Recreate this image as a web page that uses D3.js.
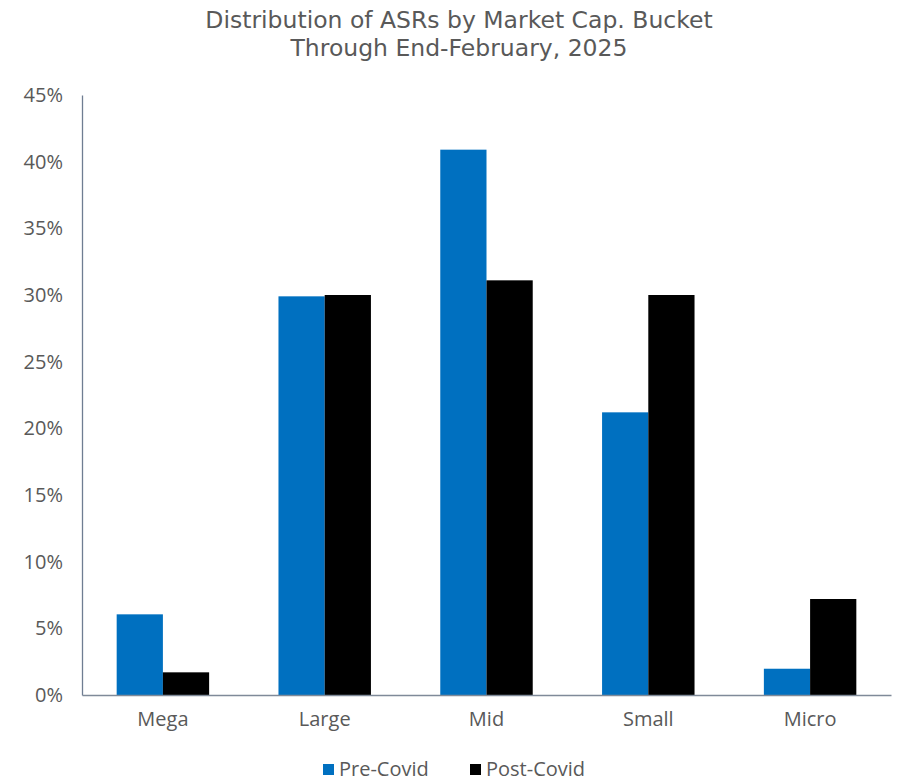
<!DOCTYPE html>
<html><head><meta charset="utf-8">
<script src="https://cdn.jsdelivr.net/npm/d3@7"></script>
<style>body{margin:0;background:#fff;} text{font-family:"Open Sans",sans-serif;}</style>
</head><body><svg id="c" width="900" height="782"></svg>
<script>
const categories = ["Mega","Large","Mid","Small","Micro"];
const seriesNames = ["Pre-Covid","Post-Covid"];
const preCovid = [6.05, 29.9, 40.9, 21.2, 1.97];
const postCovid = [1.7, 30.0, 31.1, 30.0, 7.2];
const yTicks = [0,5,10,15,20,25,30,35,40,45];
const colors = ["#0070C0","#000000"];
const titleLines = ["Distribution of ASRs by Market Cap. Bucket","Through End-February, 2025"];

(function(){
const svg = d3.select("#c");
const mLeft = 82, mRight = 891, mTop = 95, mBottom = 695;
const x = d3.scaleBand().domain(categories).range([mLeft,mRight]).paddingInner(0).paddingOuter(0);
const x1 = d3.scaleBand().domain(seriesNames).range([0,x.bandwidth()]).paddingInner(0).paddingOuter(0.75);
const y = d3.scaleLinear().domain([0,45]).range([mBottom,mTop]);

svg.selectAll(".title").data(titleLines).enter().append("text")
  .attr("x",459).attr("y",(d,i)=>28+i*28).attr("text-anchor","middle")
  .style("font-family","'DejaVu Sans',sans-serif")
  .attr("font-size",23.5).attr("fill","#595959").text(d=>d);

const data = categories.map((c,i)=>({c, vals:[preCovid[i],postCovid[i]]}));
const g = svg.append("g");
data.forEach(d=>{
  g.selectAll(null).data(d.vals).enter().append("rect")
   .attr("x",(v,j)=>x(d.c)+x1(seriesNames[j]))
   .attr("width",x1.bandwidth())
   .attr("y",v=>y(v)).attr("height",v=>y(0)-y(v))
   .attr("fill",(v,j)=>colors[j]);
});

const yAxis = d3.axisLeft(y).tickValues(yTicks).tickFormat(d=>d+"%").tickSize(0).tickPadding(19);
const ya = svg.append("g").attr("transform",`translate(${mLeft},0)`).call(yAxis);
ya.select(".domain").attr("stroke","#6f7d92").attr("stroke-width",1.3);
ya.selectAll("text").attr("font-size",20).attr("fill","#595959");

const xAxis = d3.axisBottom(x).tickSize(0).tickPadding(17);
const xa = svg.append("g").attr("transform",`translate(0,${mBottom})`).call(xAxis);
xa.select(".domain").attr("stroke","#7f8a99").attr("stroke-width",1.5);
xa.selectAll("text").attr("font-size",20).attr("fill","#595959");

const legX = [323, 470];
const lg = svg.selectAll(".leg").data(seriesNames).enter().append("g").attr("transform",(d,i)=>`translate(${legX[i]},764)`);
lg.append("rect").attr("width",11).attr("height",11).attr("fill",(d,i)=>colors[i]);
lg.append("text").attr("x",16).attr("y",12).attr("font-size",20).attr("fill","#595959").text(d=>d);
})();
</script></body></html>
